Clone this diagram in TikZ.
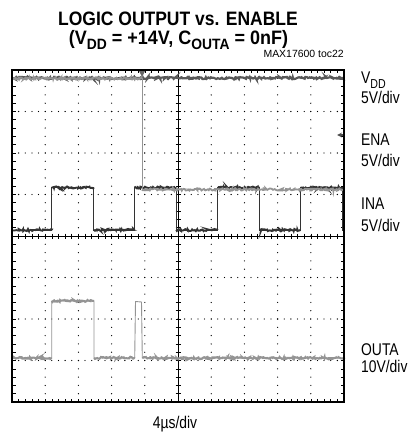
\documentclass[tikz,border=0pt]{standalone}
\usepackage{fontspec}
\setmainfont{Liberation Sans}
\usetikzlibrary{decorations.pathmorphing}

\begin{document}
\begin{tikzpicture}[x=1bp,y=-1bp,
  chan/.style={anchor=base west,inner sep=0,xscale=.82,font=\fontsize{17}{17}\selectfont},
  headline/.style={anchor=base,inner sep=0,xscale=.9,font=\fontsize{19.5}{19.5}\bfseries\selectfont},
  noisy/.style={decorate,decoration={random steps,segment length=1bp,amplitude=1.1bp}},
  vddtrace/.style={draw=black!65,line width=2.2bp},
  enatrace/.style={draw=black!42,line width=1.8bp},
  inatrace/.style={draw=black!80,line width=1.9bp},
  outtrace/.style={draw=black!42,line width=2bp}]
  \useasboundingbox (0,0) rectangle (414,433);

  % titles
  \node [headline] (title) at (178,25.7) {LOGIC OUTPUT vs. ENABLE};
  \node [headline,xscale=1.03] (cond) at (178.5,44.5)
    {(V\raisebox{-.28em}{\fontsize{15}{15}\selectfont DD} = +14V, C\raisebox{-.28em}{\fontsize{15}{15}\selectfont OUTA} = 0nF)};
  \node [anchor=base east,inner sep=0,font=\fontsize{10.5}{10.5}\selectfont] (toc) at (344,57.8) {MAX17600 toc22};

  % grid dots
  \foreach \i in {1,2,3,4,6,7,8,9}
    \foreach \k in {1,...,39}
      \fill (12+\i*33.2,70+\k*8.3) circle (.65);
  \foreach \j in {1,2,3,5,6,7}
    \foreach \k in {1,...,49}
      \fill (12+\k*6.64,70+\j*41.5) circle (.65);

  % centre axes and edge ticks
  \draw [line width=.6bp] (12,236) -- (344,236) (178,70) -- (178,402);
  \foreach \k in {1,...,49}
    \draw [line width=.6bp] (12+\k*6.64,233.5) -- ++(0,5)
      (12+\k*6.64,70) -- ++(0,3.5) (12+\k*6.64,402) -- ++(0,-3.5);
  \foreach \k in {1,...,39}
    \draw [line width=.6bp] (175.5,70+\k*8.3) -- ++(5,0)
      (12,70+\k*8.3) -- ++(3.5,0) (344,70+\k*8.3) -- ++(-3.5,0);

  % INA
  \draw [black!80,line width=.9bp] (13,230) -- (51.7,230) -- (51.7,187.5) -- (93.7,187.5) -- (93.7,230)
    -- (134.7,230) -- (134.7,187.5) -- (176.3,187.5) -- (176.3,230) -- (217.7,230) -- (217.7,187.5)
    -- (259.3,187.5) -- (259.3,230) -- (300.7,230) -- (300.7,187.5) -- (342,187.5) -- (342,230) -- (343,230);
  \foreach \a/\b in {13/51.7,93.7/134.7,176.3/217.7,259.3/300.7}
    \draw [inatrace,noisy] (\a,230) -- (\b,230);
  \foreach \a/\b in {51.7/93.7,134.7/176.3,217.7/259.3,300.7/342}
    \draw [inatrace,noisy] (\a,187.5) -- (\b,187.5);

  % VDD and ENA
  \draw [vddtrace,noisy] (13,78) -- (343,78);
  \draw [enatrace,noisy] (13,78.5) -- (142,78.5);
  \draw [black!42,line width=.9bp] (142,78) -- (142,189.5);
  \draw [enatrace,noisy] (142,189.5) -- (343,189.5);

  % OUTA
  \draw [black!42,line width=.9bp] (13,358) -- (51.7,358) -- (51.7,301) -- (94,301) -- (94,358)
    -- (134.7,358) -- (135.5,301.5) -- (141.5,302) -- (142.3,358) -- (343,358);
  \foreach \a/\b in {13/51.7,94/134.7,142.3/343}
    \draw [outtrace,noisy] (\a,358) -- (\b,358);
  \draw [outtrace,noisy] (51.7,301) -- (94,301);

  % markers
  \fill [black!60] (139,71) -- (145,71) -- (142,77) -- cycle;
  \draw [black!70,line width=1.2bp,-stealth] (344,135) -- (337,135);

  % frame
  \draw [line width=2bp] (12,70) rectangle (344,402);

  % channel labels
  \node [chan] (vdd) at (361,83.3) {V\raisebox{-.28em}{\fontsize{13}{13}\selectfont DD}};
  \node [chan] (vdddiv) at (361,104) {5V/div};
  \node [chan] (ena) at (361,146) {ENA};
  \node [chan] (enadiv) at (361,167) {5V/div};
  \node [chan] (ina) at (361,210) {INA};
  \node [chan] (inadiv) at (361,231.5) {5V/div};
  \node [chan] (outa) at (361,355) {OUTA};
  \node [chan] (outadiv) at (361,372) {10V/div};
  \node [anchor=base,inner sep=0,xscale=.82,font=\fontsize{17}{17}\selectfont] (time) at (175,428) {4µs/div};
\end{tikzpicture}
\end{document}
